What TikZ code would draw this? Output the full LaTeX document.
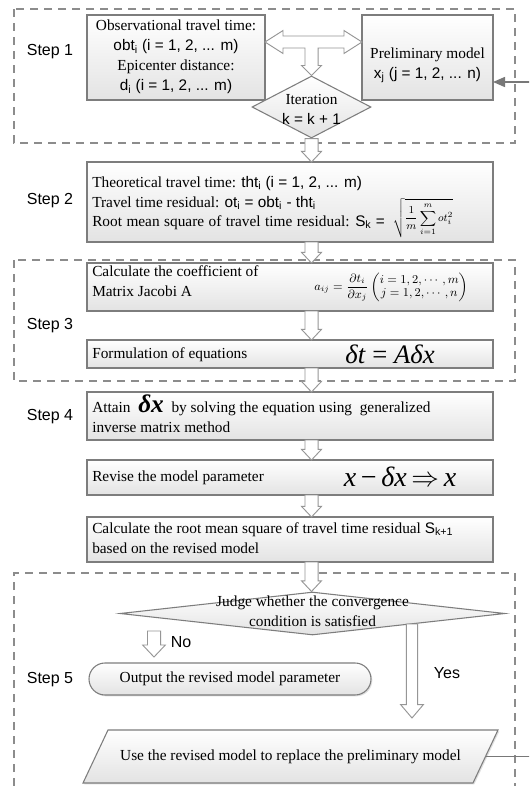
\documentclass[tikz,border=0pt]{standalone}
\usepackage{amsmath}
\usepackage{fontspec}
\setmainfont{Liberation Serif}
\setsansfont{Liberation Sans}
\usetikzlibrary{shapes.geometric,calc,arrows.meta,fit,shadows}
\definecolor{bord}{RGB}{125,125,125}
\definecolor{dashc}{RGB}{140,140,140}
\definecolor{arrc}{RGB}{150,150,150}
\definecolor{fbc}{RGB}{120,120,120}
\newcommand\sft[1]{{\sffamily #1}}
\newcommand\vblock[5]{\path[blockarrow] let \p1=(#1), \p2=(#2) in
  (\x1-#3,\y1) -- (\x1-#3,\y2+#5) -- (\x1-#4,\y2+#5) -- (\x1,\y2) --
  (\x1+#4,\y2+#5) -- (\x1+#3,\y2+#5) -- (\x1+#3,\y1) -- cycle;}
\tikzset{
  procbox/.style={draw=bord, line width=0.8pt, top color=white, bottom color=gray!22, inner sep=0pt, outer sep=0pt,
    drop shadow={shadow xshift=1pt, shadow yshift=-1pt, opacity=0.25, fill=gray}},
  stepframe/.style={draw=dashc, dash pattern=on 6pt off 4.5pt, line width=0.9pt},
  steplabel/.style={font=\sffamily\fontsize{12}{14}\selectfont, inner sep=0pt},
  blockarrow/.style={draw=arrc, fill=white, line width=0.7pt, line join=miter},
  txt/.style={font=\fontsize{11.5}{15}\selectfont, inner sep=0pt},
  feedback/.style={draw=fbc, line width=1.1pt, -{Triangle[length=9pt,width=7.5pt]}},
}
\begin{document}
\begin{tikzpicture}[x=0.75pt,y=-0.75pt]
\useasboundingbox (0,0) rectangle (529,786);
\clip (0,0) rectangle (529,786);
\fill[white] (0,0) rectangle (529,786);
\coordinate (axis) at (311.5,0);

% step frames
\draw[stepframe] (14,9) rectangle (515,143);
\draw[stepframe] (14,260) rectangle (515,381);
\draw[stepframe] (14,800) -- (14,573) -- (515,573) -- (515,800);

% step labels
\node[steplabel] (l1) at (50,52) {Step 1};
\node[steplabel] (l2) at (50,201) {Step 2};
\node[steplabel] (l3) at (50,326) {Step 3};
\node[steplabel] (l4) at (50,417) {Step 4};
\node[steplabel] (l5) at (50,680) {Step 5};

% step 1
\node[procbox, fit={(87,15) (265,100)}] (A) {};
\node[procbox, fit={(362,15) (493,100)}] (B) {};
\node[txt, align=center] (Atxt) at (176,57) {Observational travel time:\\ \sft{obt\textsubscript{i} (i = 1, 2, ... m)}\\ Epicenter distance:\\ \sft{d\textsubscript{i} (i = 1, 2, ... m)}};
\node[txt, align=center] (Btxt) at (427.5,65) {Preliminary model\\ \sft{x\textsubscript{j} (j = 1, 2, ... n)}};
\node[diamond, draw=bord, line width=0.8pt, top color=white, bottom color=gray!22, minimum width=89.25pt, minimum height=46.5pt, inner sep=0pt] (iter) at (311.5,107) {};
\node[txt, align=center] (itertxt) at (311.5,109) {Iteration\\ \sft{k = k + 1}};
\coordinate (tc) at (311.5,42);
\path[blockarrow] let \p1=(A.east), \p2=(B.west), \p3=(iter.north), \p4=(tc) in
  (\x1,\y4) -- (\x1+13.5pt,\y4+8.6pt) -- (\x1+13.5pt,\y4+4.5pt) -- (\x2-13.5pt,\y4+4.5pt) -- (\x2-13.5pt,\y4+8.6pt) -- (\x2,\y4) -- (\x2-13.5pt,\y4-8.6pt) -- (\x2-13.5pt,\y4-4.5pt) -- (\x3+4.9pt,\y4-4.5pt) -- (\x3+4.9pt,\y3+7.5pt) -- (\x3+7.5pt,\y3+7.5pt) -- (\x3,\y3) -- (\x3-7.5pt,\y3+7.5pt) -- (\x3-4.9pt,\y3+7.5pt) -- (\x3-4.9pt,\y4-4.5pt) -- (\x1+13.5pt,\y4-4.5pt) -- (\x1+13.5pt,\y4-8.6pt) -- cycle;

% step 2
\node[procbox, fit={(87,162) (493,242)}] (S2) {};
\node[txt, anchor=base west] (s2a) at (92,187) {Theoretical travel time: \sft{tht\textsubscript{i} (i = 1, 2, ... m)}};
\node[txt, anchor=base west] (s2b) at (92,207) {Travel time residual: \sft{ot\textsubscript{i} = obt\textsubscript{i} - tht\textsubscript{i}}};
\node[txt, anchor=base west] (s2c) at (92,226) {\makebox[193pt][s]{Root mean square of travel time residual:}};
\node[txt, anchor=base west] (s2s) at (355,226) {\sft{S\textsubscript{k} =}};
\node[inner sep=0pt, font=\fontsize{8.5}{10}\selectfont] (s2f) at (423,218) {$\displaystyle\sqrt{\frac{1}{m}\sum_{i=1}^{m} ot_i^{2}}$};

% step 3
\node[procbox, fit={(87,263) (493,311)}] (C1) {};
\node[txt, anchor=base west, align=left] (c1t) at (92,296) {Calculate the coefficient of\\Matrix Jacobi A};
\node[inner sep=0pt, font=\fontsize{9}{10}\selectfont] (c1f) at (391,287) {$a_{ij}=\dfrac{\partial t_i}{\partial x_j}\left(\begin{matrix} i=1,2,\cdots,m\\ j=1,2,\cdots,n\end{matrix}\right)$};
\node[procbox, fit={(87,340) (493,368)}] (C2) {};
\node[txt, anchor=base west] (c2t) at (92,358) {Formulation of equations};
\node[inner sep=0pt, font=\fontsize{20}{22}\selectfont] (c2f) at (390,354) {\textit{δt} = \textit{Aδx}};

% step 4
\node[procbox, fit={(87,392) (493,440)}] (D) {};
\node[txt, anchor=base west, align=left] (dt) at (92,432) {Attain \ {\fontsize{19}{19}\selectfont\bfseries\itshape δx} \ by solving the equation using \ generalized\\inverse matrix method};
\node[procbox, fit={(87,460) (493,495)}] (E) {};
\node[txt, anchor=base west] (et) at (92,481) {Revise the model parameter};
\node[inner sep=0pt, font=\fontsize{21}{22}\selectfont] (ef) at (400,477) {\textit{x}\,−\,\textit{δx}\,$\Rightarrow$\,\textit{x}};
\node[procbox, fit={(87,517) (493,562)}] (F) {};
\node[txt, anchor=base west, align=left] (ft) at (92,553) {Calculate the root mean square of travel time residual \sft{S\textsubscript{k+1}}\\based on the revised model};

% step 5
\node[diamond, draw=bord, line width=0.8pt, top color=white, bottom color=gray!22, minimum width=288.75pt, minimum height=32.25pt, inner sep=0pt] (judge) at (312.5,613.5) {};
\node[txt, align=center] (judget) at (312.5,611) {Judge whether the convergence\\condition is satisfied};
\node[procbox, rounded corners=12pt, fit={(89,663) (371,695)}] (out) {};
\node[txt] (outt) at (230,679) {Output the revised model parameter};
\coordinate (usec) at (290.5,756.5);
\path[procbox] ($(usec)+(-207.5,26.5)$) -- ($(usec)+(-182.5,-26.5)$) -- ($(usec)+(207.5,-26.5)$) -- ($(usec)+(182.5,26.5)$) -- cycle;
\node[txt] (uset) at (usec) {Use the revised model to replace the preliminary model};
\coordinate (useR) at (485.5,756.5);
\coordinate (Bin) at ($(B.south east)+(0,-18)$);

% vertical block arrows
\vblock{axis |- iter.south}{axis |- S2.north}{4.9pt}{7.5pt}{8pt}
\vblock{axis |- S2.south}{axis |- C1.north}{4.9pt}{7.5pt}{8pt}
\vblock{axis |- C1.south}{axis |- C2.north}{4.9pt}{7.5pt}{8pt}
\vblock{axis |- C2.south}{axis |- D.north}{4.9pt}{7.5pt}{8pt}
\vblock{axis |- D.south}{axis |- E.north}{4.9pt}{7.5pt}{8pt}
\vblock{axis |- E.south}{axis |- F.north}{4.9pt}{7.5pt}{8pt}
\vblock{axis |- F.south}{axis |- judge.north}{4.9pt}{7.5pt}{8pt}
\coordinate (nos) at (154,631);
\coordinate (noe) at (154,657);
\vblock{nos}{noe}{4.9pt}{8.5pt}{9pt}
\coordinate (yess) at (412,624);
\coordinate (yese) at (412,718);
\vblock{yess}{yese}{4.2pt}{8.5pt}{10pt}
\node[steplabel] (nol) at (181,642) {No};
\node[steplabel] (yesl) at (447,673) {Yes};

% feedback
\draw[feedback] (useR) -| ($(Bin)+(47,0)$) -- (Bin);
\end{tikzpicture}
\end{document}
